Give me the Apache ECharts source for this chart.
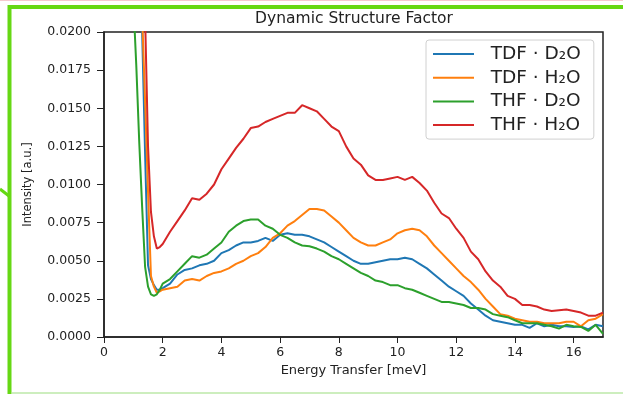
<!DOCTYPE html>
<html>
<head>
<meta charset="utf-8">
<script src="https://cdn.jsdelivr.net/npm/echarts@6/dist/echarts.min.js"></script>
<style>
  html, body { margin: 0; padding: 0; background: #fff; }
  #main { width: 623px; height: 394px; }
</style>
</head>
<body>
<div id="main"></div>
<script>
// energy transfer [meV]
var energy = [1.0, 1.1, 1.2, 1.3, 1.4, 1.5, 1.6, 1.7, 1.8, 1.9, 2.0,
  2.25, 2.5, 2.75, 3.0, 3.25, 3.5, 3.75, 4.0, 4.25, 4.5, 4.75, 5.0, 5.25, 5.5, 5.75,
  6.0, 6.25, 6.5, 6.75, 7.0, 7.25, 7.5, 7.75, 8.0, 8.25, 8.5, 8.75, 9.0, 9.25, 9.5, 9.75,
  10.0, 10.25, 10.5, 10.75, 11.0, 11.25, 11.5, 11.75, 12.0, 12.25, 12.5, 12.75,
  13.0, 13.25, 13.5, 13.75, 14.0, 14.25, 14.5, 14.75, 15.0, 15.25, 15.5, 15.75,
  16.0, 16.25, 16.5, 16.75, 17.0];

var tdfD2O = [0.030, 0.027, 0.024, 0.020, 0.012, 0.0047, 0.0038, 0.0034, 0.0031, 0.0031, 0.0032,
  0.0035, 0.0041, 0.0044, 0.0045, 0.0047, 0.0048, 0.0050, 0.0055, 0.0057, 0.0060, 0.0062, 0.0062, 0.0063, 0.0065, 0.0063,
  0.0067, 0.0068, 0.0067, 0.0067, 0.0066, 0.0064, 0.0062, 0.0059, 0.0056, 0.0053, 0.0050, 0.0048, 0.0048, 0.0049, 0.0050, 0.0051,
  0.0051, 0.0052, 0.0051, 0.0048, 0.0045, 0.0041, 0.0037, 0.0033, 0.0030, 0.0027, 0.0022, 0.0018,
  0.0014, 0.0011, 0.0010, 0.0009, 0.0008, 0.0008, 0.0006, 0.0009, 0.0007, 0.0008, 0.0007, 0.0007,
  0.00066, 0.0007, 0.0005, 0.0008, 0.0007];

var tdfH2O = [0.030, 0.027, 0.024, 0.021, 0.0155, 0.0095, 0.0040, 0.0033, 0.0029, 0.0030, 0.0031,
  0.0032, 0.0033, 0.0037, 0.0038, 0.0037, 0.0040, 0.0042, 0.0043, 0.0045, 0.0048, 0.0050, 0.0053, 0.0055, 0.0059, 0.0065,
  0.0068, 0.0073, 0.0076, 0.0080, 0.0084, 0.0084, 0.0083, 0.0079, 0.0075, 0.0070, 0.0065, 0.0062, 0.0060, 0.0060, 0.0062, 0.0064,
  0.0068, 0.0070, 0.0071, 0.0070, 0.0066, 0.0060, 0.0055, 0.0050, 0.0045, 0.0040, 0.0036, 0.0031,
  0.0025, 0.0020, 0.0015, 0.0014, 0.0012, 0.0011, 0.0010, 0.0010, 0.0009, 0.0009, 0.0009, 0.0010,
  0.0010, 0.0007, 0.0011, 0.0012, 0.0015];

var thfD2O = [0.022, 0.0178, 0.0128, 0.0085, 0.0046, 0.0033, 0.0028, 0.0027, 0.0028, 0.0031, 0.0035,
  0.0038, 0.0043, 0.0048, 0.0053, 0.0052, 0.0054, 0.0058, 0.0062, 0.0069, 0.0073, 0.0076, 0.0077, 0.0077, 0.0073, 0.0071,
  0.0067, 0.0065, 0.0062, 0.0060, 0.00595, 0.0058, 0.0056, 0.0053, 0.0051, 0.0048, 0.0045, 0.0042, 0.0040, 0.0037, 0.0036, 0.0034,
  0.0034, 0.0032, 0.0031, 0.0029, 0.0027, 0.0025, 0.0023, 0.0023, 0.0022, 0.0021, 0.0019, 0.0019,
  0.0018, 0.0015, 0.0014, 0.0013, 0.0011, 0.0009, 0.0009, 0.0009, 0.0008, 0.0007, 0.00055, 0.0008,
  0.0007, 0.00066, 0.0004, 0.0008, 0.0002];

var thfH2O = [0.030, 0.028, 0.026, 0.024, 0.021, 0.0125, 0.0082, 0.0066, 0.0058, 0.0059, 0.0061,
  0.0069, 0.0076, 0.0083, 0.0091, 0.0090, 0.0094, 0.0100, 0.0110, 0.0117, 0.0124, 0.0130, 0.0137, 0.0138, 0.0141, 0.0143,
  0.0145, 0.0147, 0.0147, 0.0152, 0.0150, 0.0148, 0.0143, 0.0138, 0.0135, 0.0125, 0.0117, 0.0113, 0.0106, 0.0103, 0.0103, 0.0104,
  0.0105, 0.0103, 0.0105, 0.0101, 0.0096, 0.0088, 0.0081, 0.0078, 0.0071, 0.0065, 0.0056, 0.0051,
  0.0043, 0.0037, 0.0033, 0.0027, 0.0025, 0.0021, 0.0021, 0.0020, 0.0018, 0.0017, 0.00175, 0.0018,
  0.0017, 0.0016, 0.0014, 0.0014, 0.0016];

var names = ['TDF · D₂O', 'TDF · H₂O', 'THF · D₂O', 'THF · H₂O'];
var colors = ['#1f77b4', '#ff7f0e', '#2ca02c', '#d62728'];

function pairs(ys) {
  return energy.map(function (e, i) { return [e, ys[i]]; });
}

var myChart = echarts.init(document.getElementById('main'));
var font = 'DejaVu Sans';
var option = {
  animation: false,
  backgroundColor: '#fff',
  color: colors,
  title: {
    text: 'Dynamic Structure Factor',
    left: 354,
    textAlign: 'center',
    top: 11,
    padding: 0,
    textStyle: { fontFamily: font, fontSize: 15.5, fontWeight: 'normal', color: '#222' }
  },
  legend: {
    orient: 'vertical',
    left: 426,
    top: 40,
    padding: [4, 13, 4, 7],
    itemWidth: 41,
    itemHeight: 2,
    itemGap: 3.7,
    icon: 'rect',
    backgroundColor: 'rgba(255,255,255,0.85)',
    borderColor: '#d0d0d0',
    borderWidth: 1,
    borderRadius: 3,
    textStyle: { fontFamily: font, fontSize: 18.5, color: '#222', lineHeight: 20 },
    formatter: function (n) { return '  ' + n; },
    data: names
  },
  grid: {
    left: 104, right: 20, top: 32, bottom: 57,
    show: true, borderColor: '#222', borderWidth: 1.5
  },
  xAxis: {
    type: 'value',
    min: 0, max: 17, interval: 2,
    name: 'Energy Transfer [meV]',
    nameLocation: 'middle',
    nameGap: 25,
    nameTextStyle: { fontFamily: font, fontSize: 13, color: '#222' },
    axisLine: { show: true, lineStyle: { color: '#222', width: 1.5 } },
    axisTick: { show: true, length: 6, lineStyle: { color: '#222' } },
    axisLabel: { margin: 9, showMaxLabel: false, fontFamily: font, fontSize: 12.5, color: '#222' },
    splitLine: { show: false }
  },
  yAxis: {
    type: 'value',
    min: 0, max: 0.02, interval: 0.0025,
    name: 'Intensity [a.u.]',
    nameLocation: 'middle',
    nameGap: 70,
    nameTextStyle: { fontFamily: font, fontSize: 11.5, color: '#222' },
    axisLine: { show: true, lineStyle: { color: '#222', width: 1.5 } },
    axisTick: { show: true, length: 7, lineStyle: { color: '#222' } },
    axisLabel: {
      margin: 13, fontFamily: font, fontSize: 12.5, color: '#222',
      formatter: function (v) { return v.toFixed(4); }
    },
    splitLine: { show: false }
  },
  series: [
    { name: names[0], type: 'line', data: pairs(tdfD2O) },
    { name: names[1], type: 'line', data: pairs(tdfH2O) },
    { name: names[2], type: 'line', data: pairs(thfD2O) },
    { name: names[3], type: 'line', data: pairs(thfH2O) }
  ].map(function (s, i) {
    s.showSymbol = false;
    s.clip = true;
    s.lineStyle = { width: 2, color: colors[i] };
    s.itemStyle = { color: colors[i] };
    return s;
  }),
  // slide frame around the figure
  graphic: [
    { type: 'line', shape: { x1: 0, y1: 0.5, x2: 623, y2: 0.5 }, style: { stroke: '#f6c9cf', lineWidth: 1 } },
    { type: 'line', shape: { x1: 8, y1: 7, x2: 623, y2: 7 }, style: { stroke: '#66d814', lineWidth: 4 } },
    { type: 'line', shape: { x1: 9.5, y1: 5, x2: 9.5, y2: 394 }, style: { stroke: '#66d814', lineWidth: 4 } },
    { type: 'line', shape: { x1: 0, y1: 189, x2: 9, y2: 196 }, style: { stroke: '#66d814', lineWidth: 3 } },
    { type: 'line', shape: { x1: 12, y1: 393, x2: 623, y2: 393 }, style: { stroke: '#cdeebe', lineWidth: 2 } }
  ]
};
myChart.setOption(option);
</script>
</body>
</html>
